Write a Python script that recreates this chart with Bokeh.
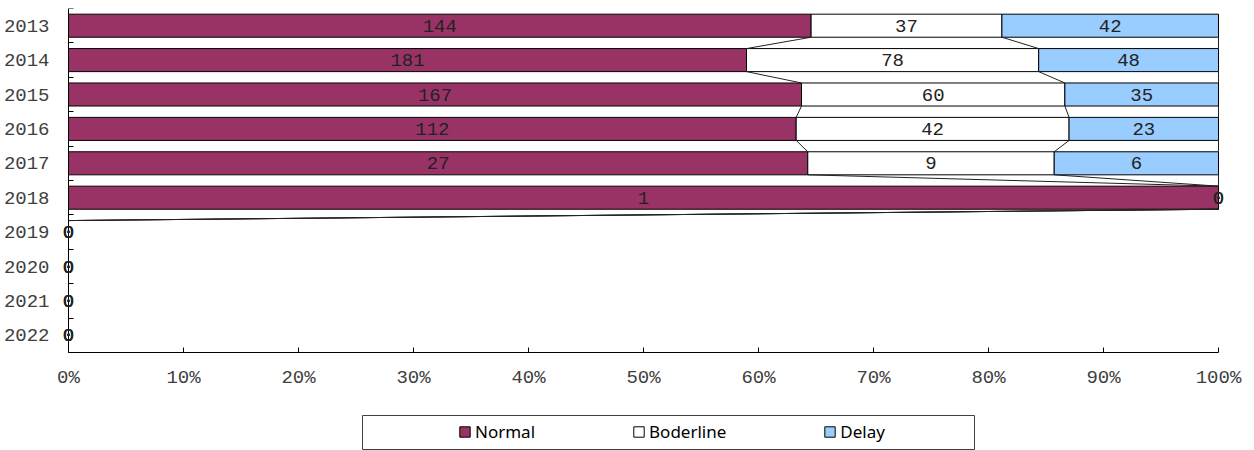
from bokeh.plotting import figure
from bokeh.models import (Range1d, FixedTicker, NumeralTickFormatter, ColumnDataSource,
                          LabelSet, Legend, LegendItem, Spacer, LinearAxis)
from bokeh.layouts import column, row
from bokeh.core.properties import value
from bokeh.embed import file_html
from bokeh.resources import INLINE

# ---------------- data ----------------
years = ["2013", "2014", "2015", "2016", "2017", "2018", "2019", "2020", "2021", "2022"]
normal = [144, 181, 167, 112, 27, 1, 0, 0, 0, 0]
boderline = [37, 78, 60, 42, 9, 0, 0, 0, 0, 0]
delay = [42, 48, 35, 23, 6, 0, 0, 0, 0, 0]
series_names = ["Normal", "Boderline", "Delay"]
series_colors = ["#993366", "#FFFFFF", "#99CCFF"]
x_ticks = [i / 10 for i in range(11)]

series_values = [normal, boderline, delay]
n = len(years)
idx = list(range(n))
totals = [sum(v[i] for v in series_values) for i in idx]

BAR_H = 0.67
MONO = "Liberation Mono"
PAD_L = 7 / 1150   # small room so edge labels are not clipped
PAD_R = 10 / 1150

p = figure(width=1254, height=415,
           x_range=Range1d(-PAD_L, 1 + PAD_R), y_range=Range1d(n - 0.5, -0.5),
           min_border_left=61, min_border_right=26, min_border_top=8, min_border_bottom=63,
           toolbar_location=None, output_backend="svg")
p.outline_line_color = None
p.grid.visible = False

# stacked 100% bars
lefts = [0.0] * n
label_x, label_y, label_t = [], [], []
rights_by_series = []
sources = []
for vals, color in zip(series_values, series_colors):
    shares = [(vals[i] / totals[i]) if totals[i] else 0.0 for i in idx]
    rights = [lefts[i] + shares[i] for i in idx]
    src = ColumnDataSource(dict(y=idx, left=lefts, right=rights))
    sources.append(src)
    p.hbar(y="y", left="left", right="right", height=BAR_H, source=src,
           fill_color=color, line_color="#000000", line_width=1)
    for i in idx:
        label_x.append((lefts[i] + rights[i]) / 2)
        label_y.append(i)
        label_t.append(str(vals[i]))
    rights_by_series.append(rights)
    lefts = rights

# series lines connecting segment ends between consecutive bars
x0, y0, x1, y1 = [], [], [], []
for rights in rights_by_series:
    for i in range(n - 1):
        x0.append(rights[i]); y0.append(i + BAR_H / 2)
        x1.append(rights[i + 1]); y1.append(i + 1 - BAR_H / 2)
p.segment(x0=x0, y0=y0, x1=x1, y1=y1, line_color="#222222", line_width=1)

# data labels
lab_src = ColumnDataSource(dict(x=label_x, y=label_y, text=label_t))
labels = LabelSet(x="x", y="y", text="text", source=lab_src, text_align="center",
                  text_baseline="middle", text_font=value(MONO), text_font_size="19px",
                  text_color="#222222")
p.add_layout(labels)

# x axis
xa = p.xaxis[0]
xa.bounds = (0, 1)
xa.ticker = FixedTicker(ticks=x_ticks)
xa.formatter = NumeralTickFormatter(format="0%")
xa.major_tick_in = 5
xa.major_tick_out = 0
xa.minor_tick_in = 0
xa.minor_tick_out = 0
xa.major_label_standoff = 14
xa.axis_line_color = "#000000"
xa.major_tick_line_color = "#000000"
xa.major_label_text_font = MONO
xa.major_label_text_font_size = "19px"
xa.major_label_text_color = "#404040"

# y axis line + boundary ticks at x = 0
ya = p.yaxis[0]
ya.fixed_location = 0
ya.ticker = FixedTicker(ticks=idx, minor_ticks=[i - 0.5 for i in range(n + 1)])
ya.major_label_text_color = None
ya.major_tick_in = 0
ya.major_tick_out = 0
ya.minor_tick_in = 5
ya.minor_tick_out = 0
ya.minor_tick_line_color = "#000000"
ya.axis_line_color = "#000000"

# y category labels (left panel)
yl = LinearAxis(ticker=FixedTicker(ticks=idx),
                major_label_overrides={i: y for i, y in zip(idx, years)},
                axis_line_color=None, major_tick_line_color=None, minor_tick_line_color=None,
                major_label_standoff=6, major_label_text_font=MONO,
                major_label_text_font_size="19px", major_label_text_color="#404040")
p.add_layout(yl, "left")

# legend in its own boxed panel (its renderers sit outside that panel's visible range)
lg = figure(width=613, height=35, x_range=(-3, -2), y_range=(-3, -2), toolbar_location=None,
            output_backend="svg", min_border=0, x_axis_type=None, y_axis_type=None)
lg.outline_line_color = "#404040"
lg.grid.visible = False
items = []
for name, color, src in zip(series_names, series_colors, sources):
    r = lg.hbar(y="y", left="left", right="right", height=BAR_H, source=src,
                fill_color=color, line_color="#000000")
    items.append(LegendItem(label=name, renderers=[r]))
legend = Legend(items=items, orientation="horizontal", location=(96, 7), spacing=97,
                padding=0, glyph_width=13, glyph_height=13, label_standoff=4,
                border_line_alpha=0, background_fill_alpha=0,
                label_text_font="Noto Sans", label_text_font_size="17px",
                label_text_color="#000000")
lg.add_layout(legend)

layout = column(p, row(Spacer(width=362, height=35), lg))

open("out.html", "w").write(file_html(layout, INLINE))
